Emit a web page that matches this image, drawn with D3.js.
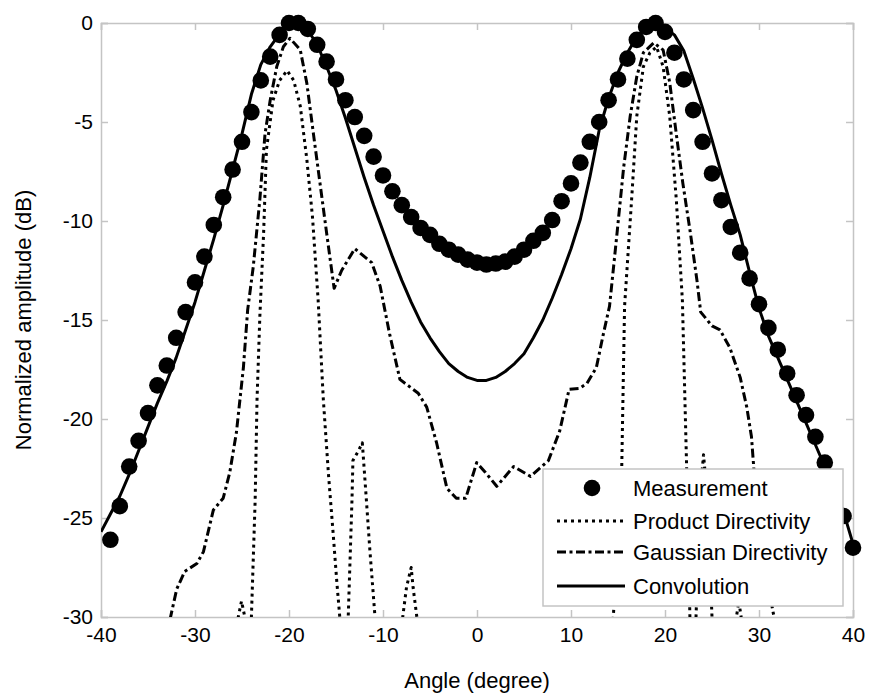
<!DOCTYPE html>
<html>
<head>
<meta charset="utf-8">
<script src="https://cdn.jsdelivr.net/npm/d3@7"></script>
<style>
  html, body { margin: 0; padding: 0; background: #fff; }
  svg { display: block; font-family: "Liberation Sans", Arial, sans-serif; }
</style>
</head>
<body>
<svg id="chart" width="869" height="694"></svg>
<script>
// ---------------- data ----------------
const xTicks = [-40, -30, -20, -10, 0, 10, 20, 30, 40];
const yTicks = [0, -5, -10, -15, -20, -25, -30];

const measAngles = [-39,-38,-37,-36,-35,-34,-33,-32,-31,-30,-29,-28,-27,-26,-25,-24,-23,-22,-21,-20,
  -19,-18,-17,-16,-15,-14,-13,-12,-11,-10,-9,-8,-7,-6,-5,-4,-3,-2,-1,0,
  1,2,3,4,5,6,7,8,9,10,11,12,13,14,15,16,17,18,19,20,
  21,22,23,24,25,26,27,28,29,30,31,32,33,34,35,36,37,38,39,40];
const measValues = [-26.1,-24.4,-22.4,-21.1,-19.7,-18.3,-17.3,-15.9,-14.6,-13.1,-11.8,-10.2,-8.8,-7.4,-6.0,-4.5,-2.9,-1.7,-0.6,0,
  0,-0.3,-1.1,-1.95,-2.85,-3.9,-4.75,-5.7,-6.75,-7.7,-8.5,-9.2,-9.8,-10.35,-10.7,-11.15,-11.45,-11.7,-11.95,-12.1,
  -12.2,-12.15,-12.05,-11.8,-11.45,-11.0,-10.6,-9.95,-9.0,-8.1,-7.05,-6.0,-5.0,-3.9,-2.85,-1.8,-0.85,-0.2,0,-0.45,
  -1.5,-2.85,-4.4,-6.0,-7.6,-8.95,-10.3,-11.6,-12.9,-14.2,-15.4,-16.5,-17.7,-18.8,-19.8,-20.9,-22.2,-23.5,-24.9,-26.5];

const prodAngles = [-26,-25.4,-25.05,-24.7,-24.4,-24.0,-23.6,-23.4,-23.1,-22.7,-22.4,-21.7,-21.0,-20.2,-19.5,-18.8,-18.1,-17.5,
  -16.9,-16.35,-15.8,-15.3,-14.9,-14.6,-14.2,-13.7,-13.3,-13.2,-12.6,-12.2,-11.9,-11.4,-10.85,-9.5,
  -7.9,-7.5,-7.0,-6.8,-6.4,-5,13.5,14.5,15.4,15.7,16.45,17.0,17.7,18.4,19.1,19.8,20.5,21.2,21.85,22.3,22.65,
  23.0,23.3,23.7,24.1,24.5,25.0,26,27.6,27.85,28.1,29];
const prodValues = [-35,-30,-29.2,-30,-35,-30,-24.1,-19.0,-14.8,-10.6,-6.4,-3.9,-2.9,-2.4,-2.9,-4.2,-6.9,-9.8,
  -14.0,-19.0,-22.8,-25.8,-28.3,-30,-35,-30,-24.1,-22.1,-21.6,-21.2,-23.2,-26.6,-30,-36,
  -30,-28.5,-27.5,-28.5,-30,-36,-36,-30,-22.4,-14.3,-8.9,-4.7,-2.2,-1.5,-1.2,-2.2,-4.7,-8.9,-14.0,-22.4,-30,
  -34,-30,-24,-21.8,-24,-30,-36,-30,-29.2,-30,-36];

const gaussAngles = [-33.5,-32.6,-31.95,-31.1,-29.8,-29.1,-28.05,-27.0,-26.3,-25.6,-24.85,-24.4,-23.8,-23.1,-22.55,-22.0,
  -21.3,-20.6,-19.9,-18.8,-18.1,-17.4,-16.7,-16.0,-15.4,-15.2,-14.4,-13.0,-11.2,-10.3,-9.3,-8.2,-6.25,-5.35,
  -4.3,-3.2,-2.2,-1.2,-0.03,0.9,2.1,3.9,5.7,7.6,8.8,9.8,10.9,11.7,12.7,13.4,14.1,14.9,15.6,16.3,17.0,17.7,
  18.8,19.8,20.5,21.2,21.9,22.7,23.4,23.8,25.0,25.85,26.9,28.0,28.7,29.2,29.45,30.2,31.0,31.6,32.5];
const gaussValues = [-32,-30,-28.6,-27.7,-27.3,-26.7,-24.6,-24.0,-22.7,-20.7,-17.4,-14.5,-12.3,-8.9,-5.6,-3.9,
  -2.2,-1.2,-0.77,-1.36,-3.05,-5.6,-8.1,-10.6,-12.7,-13.4,-12.5,-11.4,-12.1,-13.3,-15.7,-18.0,-18.7,-19.4,
  -21.2,-23.5,-24.0,-24.0,-22.2,-22.7,-23.4,-22.4,-22.9,-22.1,-20.6,-18.5,-18.45,-18.2,-17.4,-15.8,-14.3,-10.6,-7.3,-4.7,-2.7,-1.5,
  -1.0,-1.36,-3.0,-5.6,-8.1,-10.6,-13.0,-14.6,-15.3,-15.5,-16.4,-17.9,-19.4,-20.9,-22.5,-25.5,-28.5,-30,-32];

const convAngles = [-40,-39,-38,-37,-36,-35,-34,-33,-32,-31,-30,-29,-28,-27,-26,-25,-24,-23,-22,-21,-20,
  -19,-18,-17,-16,-15,-14,-13,-12,-11,-10,-9,-8,-7,-6,-5,-4,-3,-2,-1,0,
  1,2,3,4,5,6,7,8,9,10,11,12,13,14,15,16,17,18,19,20,
  21,22,23,24,25,26,27,28,29,30,31,32,33,34,35,36,37,38,39,40];
const convValues = [-25.7,-24.8,-23.9,-22.8,-21.6,-20.4,-19.2,-18.1,-16.9,-15.5,-14.1,-12.5,-10.9,-9.2,-7.4,-5.6,-3.6,-2.1,-1.2,-0.55,-0.15,
  0,-0.35,-1.1,-2.2,-3.4,-4.8,-6.3,-7.8,-9.2,-10.5,-11.8,-13.0,-14.1,-15.1,-15.9,-16.6,-17.2,-17.6,-17.9,-18.05,
  -18.05,-17.9,-17.6,-17.2,-16.7,-15.9,-15.0,-13.9,-12.7,-11.4,-9.9,-7.8,-5.4,-3.8,-2.5,-1.5,-0.7,-0.2,0,-0.25,
  -0.6,-1.4,-2.8,-4.3,-5.9,-7.6,-9.2,-10.7,-12.6,-14.4,-15.8,-16.9,-18.0,-19.1,-20.2,-21.3,-22.4,-23.5,-24.7,-26.3];

const legendLabels = ["Measurement", "Product Directivity", "Gaussian Directivity", "Convolution"];

// ---------------- drawing ----------------
const svg = d3.select("#chart");
const L = 101, R = 853, T = 23, B = 617;
const x = d3.scaleLinear().domain([-40, 40]).range([L, R]);
const y = d3.scaleLinear().domain([-30, 0]).range([B, T]);
const frameColor = "#c4c4c4";

svg.append("defs").append("clipPath").attr("id", "clip")
  .append("rect").attr("x", L).attr("y", T - 10).attr("width", R - L).attr("height", B - T + 10);

// axes
const fmt = d => String(d);
const gx = svg.append("g").attr("transform", `translate(0,${B})`)
  .call(d3.axisBottom(x).tickValues(xTicks).tickSize(-7).tickPadding(10).tickFormat(fmt));
const gy = svg.append("g").attr("transform", `translate(${L},0)`)
  .call(d3.axisLeft(y).tickValues(yTicks).tickSize(-7).tickPadding(8).tickFormat(fmt));
const gt = svg.append("g").attr("transform", `translate(0,${T})`)
  .call(d3.axisTop(x).tickValues(xTicks).tickSize(-7).tickFormat(""));
const gr = svg.append("g").attr("transform", `translate(${R},0)`)
  .call(d3.axisRight(y).tickValues(yTicks).tickSize(-7).tickFormat(""));
[gx, gy, gt, gr].forEach(g => {
  g.selectAll("path.domain").attr("stroke", frameColor).attr("stroke-width", 1.5);
  g.selectAll(".tick line").attr("stroke", frameColor).attr("stroke-width", 1.5);
  g.selectAll("text").attr("font-size", 21).attr("fill", "#000")
    .attr("font-family", "'Liberation Sans', Arial, sans-serif");
});

// axis titles
svg.append("text").attr("x", (L + R) / 2).attr("y", 688).attr("text-anchor", "middle")
  .attr("font-size", 22).text("Angle (degree)");
svg.append("text").attr("transform", `translate(31,${(T + B) / 2}) rotate(-90)`)
  .attr("text-anchor", "middle").attr("font-size", 22).text("Normalized amplitude (dB)");

// lines
const plot = svg.append("g").attr("clip-path", "url(#clip)");
const line = d3.line().x(d => x(d[0])).y(d => y(d[1]));
const styles = {
  prod: { dash: "3,4", w: 3 },
  gauss: { dash: "9,3.5,3,3.5", w: 3 },
  conv: { dash: null, w: 3 }
};
function drawLine(ax, vals, st) {
  plot.append("path").datum(ax.map((a, i) => [a, vals[i]]))
    .attr("d", line).attr("fill", "none").attr("stroke", "#000")
    .attr("stroke-width", st.w).attr("stroke-dasharray", st.dash)
    .attr("stroke-linejoin", "round");
}
drawLine(prodAngles, prodValues, styles.prod);
drawLine(gaussAngles, gaussValues, styles.gauss);
drawLine(convAngles, convValues, styles.conv);

// measurement dots
svg.append("g").selectAll("circle").data(measAngles.map((a, i) => [a, measValues[i]]))
  .join("circle").attr("cx", d => x(d[0])).attr("cy", d => y(d[1])).attr("r", 8.3).attr("fill", "#000");

// legend
const lg = svg.append("g");
lg.append("rect").attr("x", 543).attr("y", 469).attr("width", 300).attr("height", 137)
  .attr("fill", "#fff").attr("stroke", frameColor).attr("stroke-width", 1.5);
const rowY = [488, 521, 552, 586];
legendLabels.forEach((lab, i) => {
  const yy = rowY[i];
  if (i === 0) {
    lg.append("circle").attr("cx", 592).attr("cy", yy).attr("r", 8.3).attr("fill", "#000");
  } else {
    const st = [null, styles.prod, styles.gauss, styles.conv][i];
    lg.append("line").attr("x1", 557).attr("x2", 625).attr("y1", yy).attr("y2", yy)
      .attr("stroke", "#000").attr("stroke-width", st.w).attr("stroke-dasharray", st.dash);
  }
  lg.append("text").attr("x", 633).attr("y", yy).attr("dy", "0.36em")
    .attr("font-size", 22).text(lab);
});
</script>
</body>
</html>
